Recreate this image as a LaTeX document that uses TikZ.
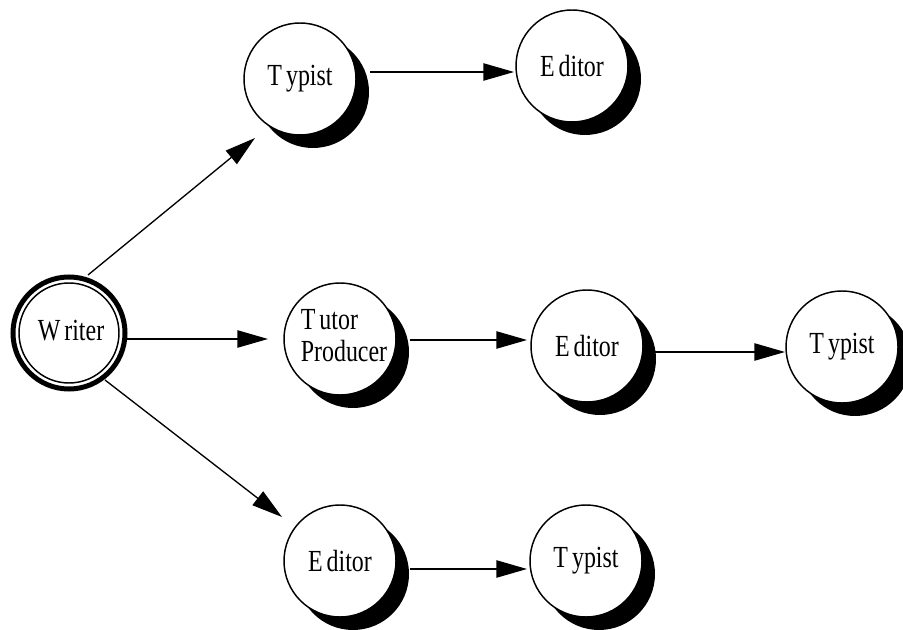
\documentclass[tikz,border=0pt]{standalone}
\usepackage{fontspec}
\newfontfamily\diafont[FakeStretch=0.78]{Liberation Serif}
\usetikzlibrary{arrows.meta,shadows}
\tikzset{
  circ/.style={circle, draw, line width=1.1pt, fill=white, minimum size=84pt, inner sep=0pt,
    font=\diafont\fontsize{23}{24}\selectfont,
    drop shadow={shadow xshift=9.75pt, shadow yshift=-9.75pt, opacity=1, fill=black}},
  wcirc/.style={circle, draw, line width=3.75pt, fill=white, minimum size=84pt, inner sep=0pt},
  arr/.style={line width=1pt, -{Triangle[length=23pt,width=13pt]}}
}
\newcommand{\gp}{\kern3pt}
\begin{document}
\begin{tikzpicture}[x=0.75pt,y=-0.75pt]
\useasboundingbox (0,0) rectangle (903,630);
% nodes
\node[wcirc] (w) at (69,333) {};
\draw[line width=1.1pt] (w.center) circle[radius=50];
\node[font=\diafont\fontsize{23}{24}\selectfont] (wl) at (71,331) {W\gp riter};
\node[circ] (t1) at (300,79) {T\gp ypist};
\node[circ] (e1) at (572,66) {E\gp ditor};
\node[circ] (tp) at (340,339) {\makebox[0pt]{\hspace*{6pt}\begin{tabular}{@{}l@{}}T\gp utor\\[0pt]Producer\end{tabular}}};
\node[circ] (e2) at (587,346) {E\gp ditor};
\node[circ] (t2) at (842,347) {T\gp ypist};
\node[circ] (e3) at (340,561) {E\gp ditor};
\node[circ] (t3) at (586,561) {T\gp ypist};
% connectors
\draw[arr] ([shift={(19,-58)}]w.center) -- ([shift={(-45,59)}]t1.center);
\draw[arr] ([shift={(58,6)}]w.center) -- ([shift={(-72,0)}]tp.center);
\draw[arr] ([shift={(36,47)}]w.center) -- ([shift={(-58,-44)}]e3.center);
\draw[arr] ([shift={(70,-7)}]t1.center) -- ([shift={(-58,6)}]e1.center);
\draw[arr] ([shift={(70,1)}]tp.center) -- ([shift={(-60,-6)}]e2.center);
\draw[arr] ([shift={(68,6)}]e2.center) -- ([shift={(-57,5)}]t2.center);
\draw[arr] ([shift={(70,8)}]e3.center) -- ([shift={(-59,8)}]t3.center);
\end{tikzpicture}
\end{document}
